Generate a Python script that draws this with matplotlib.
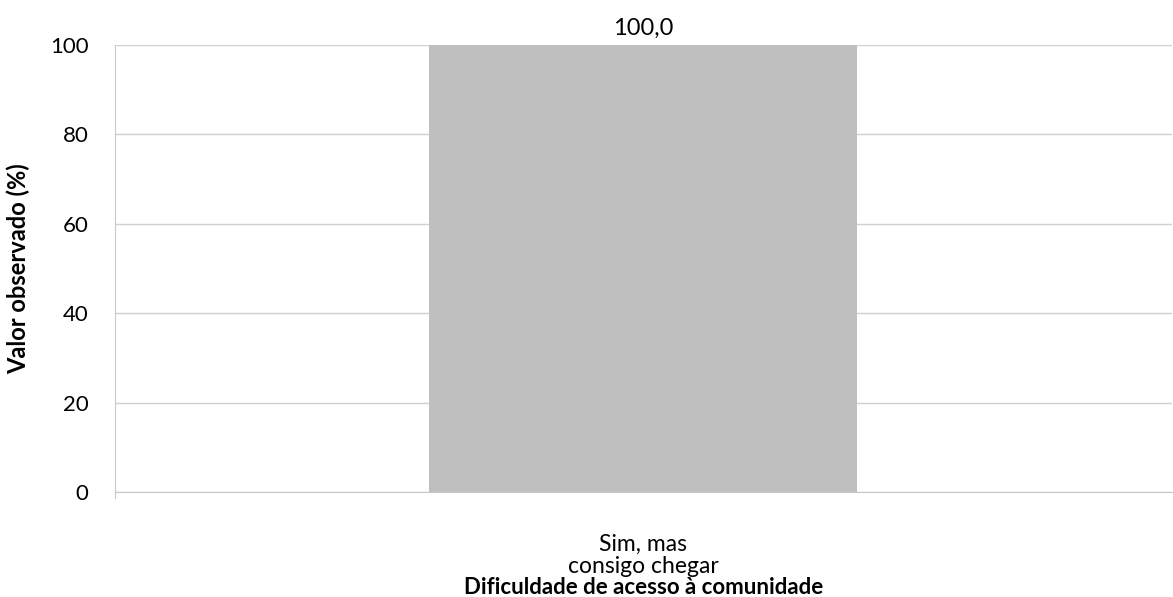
import matplotlib
matplotlib.use("Agg")
import matplotlib.pyplot as plt

categories = ["Sim, mas\nconsigo chegar"]
values = [100.0]
yticks = [0, 20, 40, 60, 80, 100]

plt.rcParams['font.family'] = ['Lato', 'DejaVu Sans']

fig = plt.figure(figsize=(11.73, 5.97), dpi=100)
ax = fig.add_axes([0.098, 0.176, 0.901, 0.7486])

x = list(range(len(categories)))
bars = ax.bar(x, values, width=0.405, color="#bfbfbf", zorder=3)
for b, v in zip(bars, values):
    ax.text(b.get_x() + b.get_width() / 2, v + 1.4, f"{v:.1f}".replace(".", ","),
            ha="center", va="bottom", fontsize=17, color="#000000")

ax.set_xlim(-0.5, 0.5)
ax.set_ylim(0, 100)
ax.set_yticks(yticks)
ax.set_yticklabels([str(t) for t in yticks], fontsize=16)
ax.grid(axis="y", color="#d0d0d0", linewidth=1, zorder=0)
ax.set_xticks(x)
ax.set_xticklabels(categories, fontsize=16.5, linespacing=1.1)
ax.tick_params(axis="x", length=0, pad=30)
ax.tick_params(axis="y", length=0, pad=19)

for s in ["top", "right"]:
    ax.spines[s].set_visible(False)
ax.spines["left"].set_color("#c8c8c8")
ax.spines["bottom"].set_color("#c8c8c8")
ax.spines["left"].set_bounds(-1.3, 100)
ax.spines["left"].set_zorder(4)
ax.spines["bottom"].set_zorder(4)

ax.set_ylabel("Valor observado (%)", fontsize=17, fontweight="bold", labelpad=14)
ax.set_xlabel("Dificuldade de acesso à comunidade", fontsize=16, fontweight="bold")
ax.xaxis.set_label_coords(0.5, -0.19)

fig.savefig("out.png", dpi=100)
